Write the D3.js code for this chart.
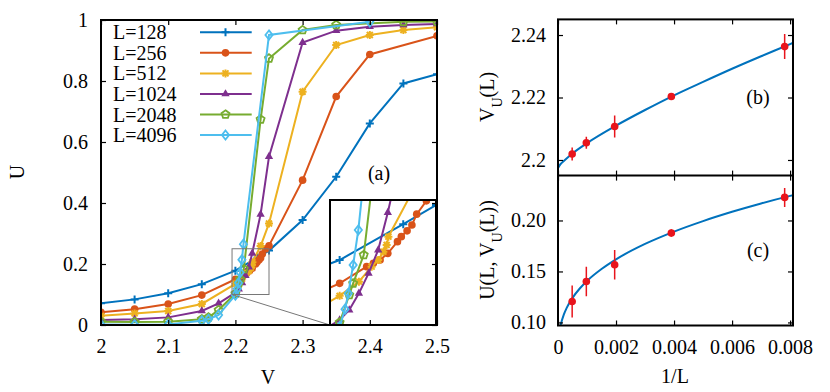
<!DOCTYPE html>
<html>
<head>
<meta charset="utf-8">
<script src="https://cdn.jsdelivr.net/npm/d3@7"></script>
<style>
  body { margin: 0; background: #fff; }
  svg { display: block; }
  text { font-family: "Liberation Serif", "Times New Roman", serif; font-size: 20px; fill: #000; }
</style>
</head>
<body>
<svg width="830" height="392"></svg>
<script>
// ---- data ----
const sizes = ["L=128", "L=256", "L=512", "L=1024", "L=2048", "L=4096"];
const colors = ["#0072BD", "#D95319", "#EDB120", "#7E2F8E", "#77AC30", "#4DBEEE"];
const markers = ["plus", "circle", "star", "triangle", "pentagon", "diamond"];

// [V, U] pairs per system size
const L128 = [[2.0, 0.071], [2.05, 0.084], [2.1, 0.104], [2.15, 0.134], [2.2, 0.178], [2.233, 0.221],
  [2.25, 0.244], [2.3, 0.344], [2.35, 0.486], [2.4, 0.661], [2.45, 0.792], [2.5, 0.822]];
const L256 = [[2.0, 0.042], [2.05, 0.052], [2.1, 0.069], [2.15, 0.098], [2.2, 0.150], [2.214, 0.170],
  [2.2175, 0.174], [2.221, 0.178], [2.225, 0.186], [2.23, 0.200], [2.232, 0.206], [2.235, 0.213],
  [2.2375, 0.220], [2.24, 0.233], [2.245, 0.249], [2.25, 0.260], [2.3, 0.475], [2.35, 0.749],
  [2.4, 0.887], [2.5, 0.948]];
const L512 = [[2.0, 0.030], [2.05, 0.038], [2.1, 0.046], [2.15, 0.069], [2.2, 0.135], [2.21, 0.152],
  [2.2166, 0.170], [2.22, 0.178], [2.2227, 0.188], [2.2244, 0.196], [2.2253, 0.206], [2.2375, 0.259],
  [2.25, 0.333], [2.3, 0.765], [2.35, 0.918], [2.4, 0.951], [2.45, 0.967], [2.5, 0.976]];
const L1024 = [[2.0, 0.016], [2.05, 0.019], [2.1, 0.025], [2.15, 0.046], [2.175, 0.071], [2.2, 0.106],
  [2.205, 0.118], [2.21, 0.138], [2.215, 0.162], [2.22, 0.190], [2.225, 0.235], [2.2375, 0.363],
  [2.25, 0.552], [2.3, 0.926], [2.35, 0.965], [2.4, 0.978], [2.45, 0.984], [2.5, 0.987]];
const L2048 = [[2.0, 0.011], [2.05, 0.010], [2.1, 0.011], [2.15, 0.019], [2.16, 0.025], [2.175, 0.049],
  [2.2, 0.103], [2.205, 0.136], [2.207, 0.150], [2.2125, 0.184], [2.2375, 0.674], [2.25, 0.874],
  [2.3, 0.967], [2.35, 0.984], [2.45, 0.994], [2.5, 0.995]];
const L4096 = [[2.0, 0.002], [2.05, 0.001], [2.1, 0.002], [2.15, 0.014], [2.16, 0.019], [2.175, 0.033],
  [2.2, 0.098], [2.2028, 0.119], [2.2045, 0.138], [2.207, 0.172], [2.2097, 0.214], [2.212, 0.265],
  [2.25, 0.951], [2.4, 0.994]];
const series = [L128, L256, L512, L1024, L2048, L4096];

const vTicks = [2, 2.1, 2.2, 2.3, 2.4, 2.5];
const vTickLabels = ["2", "2.1", "2.2", "2.3", "2.4", "2.5"];
const uTicks = [0, 0.2, 0.4, 0.6, 0.8, 1];
const uTickLabels = ["0", "0.2", "0.4", "0.6", "0.8", "1"];

// crossing points vs 1/L
const invL = [1 / 2048, 1 / 1024, 1 / 512, 1 / 256, 1 / 128];
const vU = [2.2019, 2.2055, 2.2107, 2.2203, 2.2363];
const vUErr = [0.0021, 0.0019, 0.0035, 0.001, 0.004];
const uCross = [0.1206, 0.1402, 0.1566, 0.1877, 0.2226];
const uCrossErr = [0.0157, 0.0144, 0.0144, 0.0036, 0.0093];

// fitted curves, sampled from the figure
const fitB = [[0, 2.1974], [0.00005, 2.1982], [0.0001, 2.1988], [0.0002, 2.1997], [0.0005, 2.2021],
  [0.001, 2.2054], [0.002, 2.2110], [0.003, 2.2160], [0.004, 2.2207], [0.005, 2.2250],
  [0.006, 2.2292], [0.007, 2.2332], [0.008, 2.2371], [0.0081, 2.2375]];
const fitC = [[0.00009, 0.0973], [0.0001, 0.0985], [0.0002, 0.1077], [0.0003, 0.1143], [0.0005, 0.1241],
  [0.00075, 0.1333], [0.001, 0.1407], [0.0015, 0.1524], [0.002, 0.1619], [0.003, 0.1770],
  [0.004, 0.1891], [0.005, 0.1994], [0.006, 0.2085], [0.007, 0.2167], [0.008, 0.2241], [0.0081, 0.2248]];

const invLTicks = [0, 0.002, 0.004, 0.006, 0.008];
const invLTickLabels = ["0", "0.002", "0.004", "0.006", "0.008"];
const vUTicks = [2.2, 2.22, 2.24];
const vUTickLabels = ["2.2", "2.22", "2.24"];
const uCrossTicks = [0.10, 0.15, 0.20];
const uCrossTickLabels = ["0.10", "0.15", "0.20"];

// ---- drawing ----
const svg = d3.select("svg");
const defs = svg.append("defs");
const serif = '"Liberation Serif", "Times New Roman", serif';

function clip(id, x0, y0, x1, y1) {
  defs.append("clipPath").attr("id", id).append("rect")
    .attr("x", x0).attr("y", y0).attr("width", x1 - x0).attr("height", y1 - y0);
  return "url(#" + id + ")";
}

// marker glyphs
function drawMarker(g, type, color, px, py) {
  const s = 4;
  if (type === "plus") {
    g.append("path").attr("d", `M${px - s},${py}H${px + s}M${px},${py - s}V${py + s}`)
      .attr("stroke", color).attr("stroke-width", 2).attr("fill", "none");
  } else if (type === "circle") {
    g.append("circle").attr("cx", px).attr("cy", py).attr("r", 3.8).attr("fill", color);
  } else if (type === "star") {
    const d = 3;
    g.append("path")
      .attr("d", `M${px - s},${py}H${px + s}M${px},${py - s}V${py + s}M${px - d},${py - d}L${px + d},${py + d}M${px - d},${py + d}L${px + d},${py - d}`)
      .attr("stroke", color).attr("stroke-width", 2).attr("fill", "none");
  } else if (type === "triangle") {
    g.append("path").attr("d", d3.symbol(d3.symbolTriangle, 30)())
      .attr("transform", `translate(${px},${py})`).attr("fill", color);
  } else if (type === "pentagon") {
    const pts = d3.range(5).map(k => {
      const a = -Math.PI / 2 + k * 2 * Math.PI / 5;
      return [px + 4.2 * Math.cos(a), py + 4.2 * Math.sin(a)];
    });
    g.append("path").attr("d", "M" + pts.join("L") + "Z")
      .attr("stroke", color).attr("stroke-width", 1.8).attr("fill", "none");
  } else if (type === "diamond") {
    g.append("path").attr("d", `M${px},${py - 4.6}L${px + 3.6},${py}L${px},${py + 4.6}L${px - 3.6},${py}Z`)
      .attr("stroke", color).attr("stroke-width", 1.8).attr("fill", "none");
  }
}

function drawSeries(g, xs, ys) {
  series.forEach((data, i) => {
    const line = d3.line().x(d => xs(d[0])).y(d => ys(d[1]));
    g.append("path").datum(data).attr("d", line)
      .attr("fill", "none").attr("stroke", colors[i]).attr("stroke-width", 2);
    data.forEach(d => drawMarker(g, markers[i], colors[i], xs(d[0]), ys(d[1])));
  });
}

function styleAxis(g) {
  g.select(".domain").remove();
  g.attr("font-family", serif).attr("font-size", 20);
  g.selectAll(".tick line").attr("stroke", "#000").attr("stroke-width", 1.2);
  g.selectAll("text").style("font-family", serif).style("font-size", "20px").attr("fill", "#000");
}

// ---------- panel (a) ----------
const x = d3.scaleLinear().domain([2, 2.5]).range([101, 437]);
const y = d3.scaleLinear().domain([0, 1]).range([325, 20]);

const mainG = svg.append("g").attr("clip-path", clip("clipA", 101, 20, 437, 325));
drawSeries(mainG, x, y);

// zoom box and connector
const zx0 = 2.195, zx1 = 2.25, zy0 = 0.1, zy1 = 0.25;
svg.append("rect")
  .attr("x", x(zx0)).attr("y", y(zy1))
  .attr("width", x(zx1) - x(zx0)).attr("height", y(zy0) - y(zy1))
  .attr("fill", "none").attr("stroke", "#777").attr("stroke-width", 1);

// inset
const xi = d3.scaleLinear().domain([zx0, zx1]).range([330, 436]);
const yi = d3.scaleLinear().domain([zy0, zy1]).range([325, 200]);
svg.append("line")
  .attr("x1", x(zx0)).attr("y1", y(zy0)).attr("x2", 330).attr("y2", 325)
  .attr("stroke", "#777").attr("stroke-width", 1);
svg.append("rect").attr("x", 330).attr("y", 200).attr("width", 106).attr("height", 125).attr("fill", "#fff");
const insetG = svg.append("g").attr("clip-path", clip("clipI", 330, 200, 436, 325));
drawSeries(insetG, xi, yi);
svg.append("rect").attr("x", 330).attr("y", 200).attr("width", 106).attr("height", 125)
  .attr("fill", "none").attr("stroke", "#000").attr("stroke-width", 2);

svg.append("g").attr("transform", "translate(0,325)")
  .call(d3.axisBottom(x).tickValues(vTicks).tickFormat((d, i) => vTickLabels[i]).tickSize(-5).tickPadding(14))
  .call(styleAxis);
svg.append("g").attr("transform", "translate(0,20)")
  .call(d3.axisTop(x).tickValues(vTicks).tickFormat("").tickSize(-5))
  .call(styleAxis);
svg.append("g").attr("transform", "translate(101,0)")
  .call(d3.axisLeft(y).tickValues(uTicks).tickFormat((d, i) => uTickLabels[i]).tickSize(-5).tickPadding(13))
  .call(styleAxis);
svg.append("g").attr("transform", "translate(437,0)")
  .call(d3.axisRight(y).tickValues(uTicks).tickFormat("").tickSize(-5))
  .call(styleAxis);
svg.append("rect").attr("x", 101).attr("y", 20).attr("width", 336).attr("height", 305)
  .attr("fill", "none").attr("stroke", "#000").attr("stroke-width", 2);

// legend
const legend = svg.append("g");
sizes.forEach((name, i) => {
  const ly = 32.3 + i * 20.55;
  legend.append("text").attr("x", 113).attr("y", ly + 7).text(name);
  legend.append("line").attr("x1", 200).attr("x2", 251.7).attr("y1", ly).attr("y2", ly)
    .attr("stroke", colors[i]).attr("stroke-width", 2);
  drawMarker(legend, markers[i], colors[i], 225.5, ly);
});

svg.append("text").attr("x", 379).attr("y", 180).attr("text-anchor", "middle").text("(a)");
svg.append("text").attr("x", 268).attr("y", 384).attr("text-anchor", "middle").text("V");
svg.append("text").attr("transform", "translate(24,172) rotate(-90)").attr("text-anchor", "middle").text("U");

// ---------- panels (b) and (c) ----------
const xr = d3.scaleLinear().domain([0, 0.0081]).range([558, 793]);
const yb = d3.scaleLinear().domain([2.195, 2.245]).range([175.6, 19.4]);
const yc = d3.scaleLinear().domain([0.097, 0.244]).range([325.5, 175.6]);

function drawCrossPanel(ys, fit, vals, errs, clipId) {
  const r = ys.range();
  const g = svg.append("g").attr("clip-path", clip(clipId, 558, r[1], 793, r[0]));
  g.append("path").datum(fit)
    .attr("d", d3.line().curve(d3.curveMonotoneX).x(d => xr(d[0])).y(d => ys(d[1])))
    .attr("fill", "none").attr("stroke", "#0072BD").attr("stroke-width", 2);
  invL.forEach((v, i) => {
    g.append("line").attr("x1", xr(v)).attr("x2", xr(v))
      .attr("y1", ys(vals[i] - errs[i])).attr("y2", ys(vals[i] + errs[i]))
      .attr("stroke", "#e8141c").attr("stroke-width", 1.5);
    g.append("circle").attr("cx", xr(v)).attr("cy", ys(vals[i])).attr("r", 3.8).attr("fill", "#e8141c");
  });
}

drawCrossPanel(yb, fitB, vU, vUErr, "clipB");
drawCrossPanel(yc, fitC, uCross, uCrossErr, "clipC");

// axes (b)
svg.append("g").attr("transform", "translate(558,0)")
  .call(d3.axisLeft(yb).tickValues(vUTicks).tickFormat((d, i) => vUTickLabels[i]).tickSize(-5).tickPadding(12))
  .call(styleAxis);
svg.append("g").attr("transform", "translate(793,0)")
  .call(d3.axisRight(yb).tickValues(vUTicks).tickFormat("").tickSize(-5))
  .call(styleAxis);
svg.append("g").attr("transform", "translate(0,19.4)")
  .call(d3.axisTop(xr).tickValues(invLTicks).tickFormat("").tickSize(-5))
  .call(styleAxis);
svg.append("g").attr("transform", "translate(0,175.6)")
  .call(d3.axisBottom(xr).tickValues(invLTicks).tickFormat("").tickSize(-5))
  .call(styleAxis);

// axes (c)
svg.append("g").attr("transform", "translate(558,0)")
  .call(d3.axisLeft(yc).tickValues(uCrossTicks).tickFormat((d, i) => uCrossTickLabels[i]).tickSize(-5).tickPadding(12))
  .call(styleAxis);
svg.append("g").attr("transform", "translate(793,0)")
  .call(d3.axisRight(yc).tickValues(uCrossTicks).tickFormat("").tickSize(-5))
  .call(styleAxis);
svg.append("g").attr("transform", "translate(0,175.6)")
  .call(d3.axisTop(xr).tickValues(invLTicks).tickFormat("").tickSize(-5))
  .call(styleAxis);
svg.append("g").attr("transform", "translate(0,325.5)")
  .call(d3.axisBottom(xr).tickValues(invLTicks).tickFormat((d, i) => invLTickLabels[i]).tickSize(-5).tickPadding(14))
  .call(styleAxis);

svg.append("rect").attr("x", 558).attr("y", 19.4).attr("width", 235).attr("height", 306.1)
  .attr("fill", "none").attr("stroke", "#000").attr("stroke-width", 2);
svg.append("line").attr("x1", 558).attr("x2", 793).attr("y1", 175.6).attr("y2", 175.6)
  .attr("stroke", "#000").attr("stroke-width", 2);

svg.append("text").attr("x", 758).attr("y", 104).attr("text-anchor", "middle").text("(b)");
svg.append("text").attr("x", 758).attr("y", 257).attr("text-anchor", "middle").text("(c)");
svg.append("text").attr("x", 675).attr("y", 383).attr("text-anchor", "middle").text("1/L");

// rotated y titles, placed left of the tick labels
const labB = svg.append("text").attr("transform", "translate(494,97) rotate(-90)").attr("text-anchor", "middle");
labB.append("tspan").text("V");
labB.append("tspan").attr("baseline-shift", "sub").style("font-size", "14px").text("U");
labB.append("tspan").text("(L)");

const labC = svg.append("text").attr("transform", "translate(494,250) rotate(-90)").attr("text-anchor", "middle");
labC.append("tspan").text("U(L, V");
labC.append("tspan").attr("baseline-shift", "sub").style("font-size", "14px").text("U");
labC.append("tspan").text("(L))");
</script>
</body>
</html>
